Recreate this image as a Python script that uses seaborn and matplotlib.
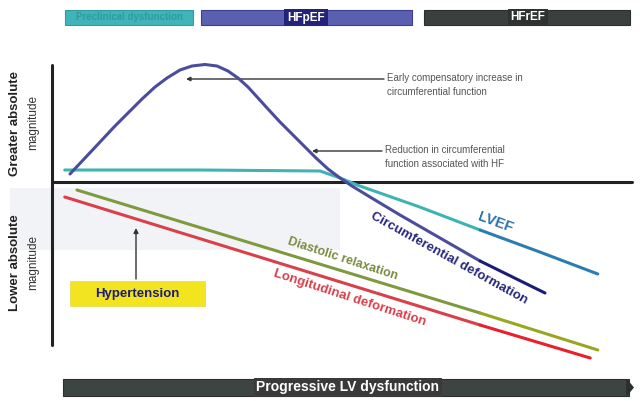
import numpy as np
import pandas as pd
import matplotlib
matplotlib.use("Agg")
import matplotlib.pyplot as plt
from matplotlib.patches import Rectangle, FancyArrow
import seaborn as sns

sns.set_style("white")
plt.rcParams['font.family'] = ['Liberation Sans', 'DejaVu Sans']

# ---- data (x: progression 0-100, y: relative magnitude, 0 = baseline) ----
lvef_x = [2.2, 25.5, 46.2, 49.7, 52.6, 63.4, 73.8, 84.1, 94.1]
lvef_y = [1.2, 1.2, 1.1, 0.4, -0.3, -2.5, -4.8, -7.0, -9.2]

circ_x = [3.10, 5.69, 8.28, 10.86, 13.45, 15.52, 17.76, 19.83, 22.07, 24.14, 26.38,
          28.45, 30.34, 32.07, 33.79, 35.52, 37.24, 39.31, 41.38, 43.45, 45.52,
          47.59, 49.66, 51.72, 54.83, 60.0, 66.90, 73.8, 85.0]
circ_y = [0.8, 2.4, 4.0, 5.6, 7.1, 8.3, 9.5, 10.4, 11.2, 11.6, 11.75,
          11.6, 11.1, 10.4, 9.5, 8.4, 7.3, 6.0, 4.8, 3.6, 2.4,
          1.3, 0.4, -0.4, -1.5, -3.3, -5.6, -7.9, -11.1]

diast_x = [4.3, 73.8, 94.1]
diast_y = [-0.8, -13.1, -16.8]

longi_x = [2.2, 73.8, 92.8]
longi_y = [-1.5, -14.3, -17.6]

split_x = 73.8  # colour change (HFrEF stage)

stage_labels = ["Preclinical dysfunction", "HFpEF", "HFrEF"]
series_labels = ["LVEF", "Circumferential deformation", "Diastolic relaxation", "Longitudinal deformation"]

W, H = 640, 401
fig = plt.figure(figsize=(W / 100, H / 100), dpi=100)

# overlay axes in pixel units for decorations
ov = fig.add_axes([0, 0, 1, 1])
ov.set_xlim(0, W)
ov.set_ylim(H, 0)
ov.axis("off")

# main data axes: px x 52..632, y 50..360
L, R, T, B = 52, 632, 50, 360
ax = fig.add_axes([L / W, 1 - B / H, (R - L) / W, (B - T) / H])
ax.set_xlim(0, 100)
ax.set_ylim((182 - B) / 10, (182 - T) / 10)
ax.axis("off")
ax.patch.set_alpha(0)

# faint shaded band
ov.add_patch(Rectangle((10, 188), 330, 62, color="#f2f3f6", zorder=0, lw=0))

def seg(xs, ys, c1, c2, lw):
    xs = np.array(xs); ys = np.array(ys)
    m1 = xs <= split_x + 1e-9
    m2 = xs >= split_x - 1e-9
    sns.lineplot(x=xs[m1], y=ys[m1], ax=ax, color=c1, lw=lw, sort=False,
                 estimator=None, solid_capstyle="round", solid_joinstyle="round")
    sns.lineplot(x=xs[m2], y=ys[m2], ax=ax, color=c2, lw=lw, sort=False,
                 estimator=None, solid_capstyle="round", solid_joinstyle="round")

seg(lvef_x, lvef_y, "#3fb3b3", "#2a7db0", 2.2)
seg(circ_x, circ_y, "#4c4c9e", "#1c1c78", 2.2)
seg(diast_x, diast_y, "#7f9a3e", "#9aa620", 2.2)
seg(longi_x, longi_y, "#d8404a", "#e8202a", 2.2)

# axes lines
ov.plot([L, R], [182, 182], color="#222222", lw=2.2, zorder=5)
ov.plot([L, L], [65, 345], color="#222222", lw=2.2, zorder=5)

# y labels
ov.text(15, 123, "Greater absolute", rotation=90, ha="center", va="center",
        fontsize=9.5, fontweight="bold", color="#222222")
ov.text(33, 123, "magnitude", rotation=90, ha="center", va="center",
        fontsize=8.5, color="#333333")
ov.text(15, 263, "Lower absolute", rotation=90, ha="center", va="center",
        fontsize=9.5, fontweight="bold", color="#222222")
ov.text(33, 263, "magnitude", rotation=90, ha="center", va="center",
        fontsize=8.5, color="#333333")

# top stage bars
ov.add_patch(Rectangle((65, 10), 128, 15, facecolor="#40b4b8", edgecolor="#2e9ea3", lw=0.8))
ov.text(129, 17.5, stage_labels[0], ha="center", va="center", fontsize=7,
        color="#2f9ca0", fontweight="bold")
ov.add_patch(Rectangle((201, 10), 211, 15, facecolor="#5a5fb0", edgecolor="#3c3f90", lw=0.8))
ov.text(306, 17.5, stage_labels[1], ha="center", va="center", fontsize=8.5,
        color="white", fontweight="bold",
        bbox=dict(boxstyle="square,pad=0.25", fc="#23237a", ec="none"))
ov.add_patch(Rectangle((424, 10), 206, 15, facecolor="#3a403e", edgecolor="#2a2f2d", lw=0.8))
ov.text(528, 17.5, stage_labels[2], ha="center", va="center", fontsize=8.5,
        color="white", fontweight="bold",
        bbox=dict(boxstyle="square,pad=0.25", fc="#2e3230", ec="none"))

# bottom bar
ov.add_patch(Rectangle((63, 379), 566, 17, facecolor="#3c4541", edgecolor="#2a302d", lw=0.8))
ov.add_patch(FancyArrow(626, 387.5, 8, 0, width=15, head_width=17, head_length=7,
                        length_includes_head=True, color="#2a302d", lw=0))
ov.text(348, 387.5, "Progressive LV dysfunction", ha="center", va="center",
        fontsize=10, color="white", fontweight="bold",
        bbox=dict(boxstyle="square,pad=0.2", fc="#3a3a3a", ec="none"))

# annotations
ov.annotate("", xy=(186, 79), xytext=(384, 79),
            arrowprops=dict(arrowstyle="-|>", color="#333333", lw=1.0,
                            mutation_scale=6, shrinkA=0, shrinkB=0))
ov.text(387, 73, "Early compensatory increase in\ncircumferential function",
        ha="left", va="top", fontsize=7, color="#555555", linespacing=1.45)
ov.annotate("", xy=(312, 151), xytext=(382, 151),
            arrowprops=dict(arrowstyle="-|>", color="#333333", lw=1.0,
                            mutation_scale=6, shrinkA=0, shrinkB=0))
ov.text(385, 145, "Reduction in circumferential\nfunction associated with HF",
        ha="left", va="top", fontsize=7, color="#555555", linespacing=1.45)

# series labels
ov.text(495, 222, series_labels[0], rotation=-20, ha="center", va="center",
        fontsize=10.5, color="#2a70b0", fontweight="bold", rotation_mode="anchor")
ov.text(449, 258, series_labels[1], rotation=-29, ha="center", va="center",
        fontsize=9.5, color="#27277e", fontweight="bold", rotation_mode="anchor")
ov.text(343, 259, series_labels[2], rotation=-18, ha="center", va="center",
        fontsize=9, color="#7a8c40", fontweight="bold", rotation_mode="anchor")
ov.text(350, 298, series_labels[3], rotation=-18, ha="center", va="center",
        fontsize=9.5, color="#d8404a", fontweight="bold", rotation_mode="anchor")

# Hypertension box
ov.add_patch(Rectangle((70, 281), 135, 25, facecolor="#f2e41e", edgecolor="#e6d84a", lw=0.5, zorder=3))
ov.text(137, 293.5, "Hypertension", ha="center", va="center", fontsize=9.5,
        color="#1c1c78", fontweight="bold", zorder=4)
ov.annotate("", xy=(136, 228), xytext=(136, 279),
            arrowprops=dict(arrowstyle="-|>", color="#333333", lw=1.0,
                            mutation_scale=7, shrinkA=0, shrinkB=0))

fig.savefig("out.png", dpi=100)
